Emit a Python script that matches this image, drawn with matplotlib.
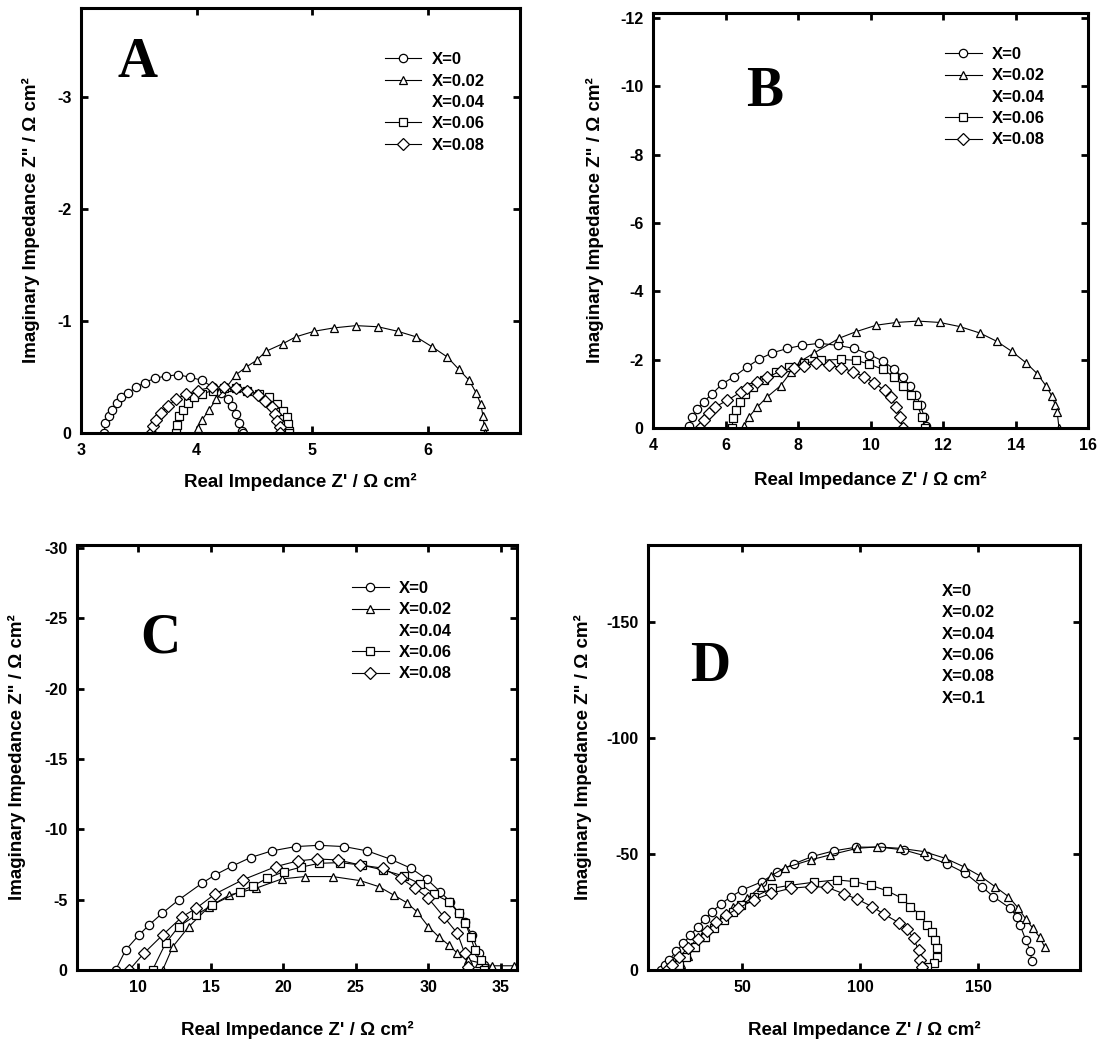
import matplotlib
matplotlib.use("Agg")
import matplotlib.pyplot as plt
from matplotlib.lines import Line2D

plt.rcParams['font.family'] = ['Liberation Sans', 'DejaVu Sans']
plt.rcParams['font.weight'] = 'bold'
plt.rcParams['axes.unicode_minus'] = False

labels = ["X=0", "X=0.02", "X=0.04", "X=0.06", "X=0.08"]
labels_d = ["X=0", "X=0.02", "X=0.04", "X=0.06", "X=0.08", "X=0.1"]

# ---- panel A ----
a0_re = [3.20, 3.21, 3.24, 3.27, 3.31, 3.35, 3.41, 3.48, 3.55, 3.64, 3.74, 3.84, 3.94, 4.05, 4.14, 4.21, 4.27, 4.31, 4.34, 4.37, 4.39, 4.40]
a0_im = [0, -0.09, -0.15, -0.21, -0.27, -0.32, -0.36, -0.41, -0.45, -0.49, -0.51, -0.52, -0.50, -0.47, -0.41, -0.36, -0.30, -0.24, -0.17, -0.09, -0.02, 0]
a2_re = [4.01, 4.05, 4.11, 4.17, 4.26, 4.34, 4.43, 4.52, 4.60, 4.75, 4.86, 5.02, 5.19, 5.38, 5.57, 5.74, 5.90, 6.04, 6.17, 6.27, 6.36, 6.42, 6.46, 6.48, 6.49, 6.50]
a2_im = [-0.045, -0.12, -0.21, -0.30, -0.41, -0.52, -0.59, -0.65, -0.73, -0.80, -0.86, -0.91, -0.94, -0.96, -0.95, -0.91, -0.86, -0.77, -0.68, -0.57, -0.47, -0.36, -0.26, -0.15, -0.06, 0]
a6_re = [3.82, 3.83, 3.85, 3.88, 3.93, 3.98, 4.05, 4.14, 4.24, 4.34, 4.44, 4.54, 4.63, 4.70, 4.75, 4.78, 4.79, 4.80, 4.80]
a6_im = [0, -0.075, -0.15, -0.21, -0.27, -0.32, -0.35, -0.38, -0.40, -0.40, -0.38, -0.35, -0.32, -0.26, -0.20, -0.14, -0.08, -0.02, 0]
a8_re = [3.61, 3.62, 3.65, 3.69, 3.75, 3.82, 3.91, 4.01, 4.13, 4.24, 4.34, 4.44, 4.53, 4.59, 4.65, 4.68, 4.70, 4.72, 4.72]
a8_im = [0, -0.06, -0.12, -0.18, -0.24, -0.30, -0.35, -0.38, -0.41, -0.41, -0.40, -0.38, -0.34, -0.29, -0.23, -0.17, -0.11, -0.05, 0]

# ---- panel B ----
b0_re = [4.98, 5.08, 5.22, 5.40, 5.63, 5.91, 6.23, 6.60, 6.92, 7.29, 7.71, 8.12, 8.59, 9.09, 9.55, 9.97, 10.34, 10.66, 10.89, 11.08, 11.26, 11.38, 11.48, 11.54]
b0_im = [-0.05, -0.33, -0.57, -0.77, -1.00, -1.29, -1.50, -1.79, -2.01, -2.20, -2.33, -2.42, -2.48, -2.42, -2.33, -2.15, -1.96, -1.72, -1.48, -1.24, -0.96, -0.67, -0.33, -0.05]
b2_re = [6.51, 6.65, 6.88, 7.15, 7.52, 7.80, 8.08, 8.45, 9.14, 9.60, 10.16, 10.71, 11.31, 11.91, 12.46, 13.02, 13.48, 13.89, 14.30, 14.60, 14.85, 15.00, 15.10, 15.15, 15.20]
b2_im = [-0.05, -0.33, -0.62, -0.91, -1.24, -1.63, -1.96, -2.20, -2.63, -2.82, -3.01, -3.09, -3.13, -3.09, -2.97, -2.78, -2.54, -2.25, -1.90, -1.59, -1.22, -0.94, -0.67, -0.46, 0]
b6_re = [6.18, 6.21, 6.28, 6.40, 6.55, 6.77, 7.05, 7.39, 7.75, 8.17, 8.63, 9.19, 9.60, 9.97, 10.34, 10.64, 10.89, 11.11, 11.29, 11.42, 11.51]
b6_im = [0, -0.29, -0.53, -0.77, -0.99, -1.20, -1.41, -1.63, -1.80, -1.90, -1.98, -2.01, -1.98, -1.87, -1.72, -1.50, -1.24, -0.96, -0.67, -0.33, 0]
b8_re = [5.31, 5.40, 5.54, 5.72, 6.05, 6.42, 6.60, 6.88, 7.15, 7.52, 7.89, 8.17, 8.49, 8.86, 9.19, 9.51, 9.83, 10.11, 10.39, 10.57, 10.71, 10.80, 10.89]
b8_im = [0, -0.24, -0.43, -0.62, -0.81, -1.05, -1.18, -1.34, -1.48, -1.67, -1.77, -1.82, -1.89, -1.84, -1.77, -1.65, -1.50, -1.31, -1.10, -0.91, -0.62, -0.33, 0]

# ---- panel C ----
c0_re = [8.46, 9.15, 10.07, 10.76, 11.67, 12.8, 14.4, 15.3, 16.5, 17.75, 19.2, 20.85, 22.45, 24.2, 25.8, 27.4, 28.8, 29.9, 30.8, 31.5, 32.1, 32.5, 33.0, 33.5, 33.8, 34.0]
c0_im = [0, -1.42, -2.49, -3.2, -4.03, -4.98, -6.16, -6.75, -7.39, -7.99, -8.46, -8.77, -8.86, -8.77, -8.46, -7.87, -7.23, -6.45, -5.57, -4.86, -4.03, -3.44, -2.49, -1.18, -0.36, 0]
c2_re = [11.7, 12.4, 13.5, 14.9, 16.3, 18.1, 19.9, 21.5, 23.4, 25.3, 26.6, 27.6, 28.5, 29.2, 30.0, 30.7, 31.4, 32.0, 32.7, 33.5, 34.4, 35.9]
c2_im = [0, -1.66, -3.08, -4.5, -5.33, -5.8, -6.47, -6.64, -6.64, -6.35, -5.92, -5.33, -4.79, -4.15, -3.08, -2.37, -1.78, -1.18, -0.71, -0.52, -0.3, -0.3]
c6_re = [11.0, 11.9, 12.8, 14.0, 15.1, 17.0, 17.9, 18.9, 20.05, 21.2, 22.45, 23.9, 25.4, 26.9, 28.3, 29.45, 30.4, 31.4, 32.1, 32.55, 32.9, 33.2, 33.6, 33.8]
c6_im = [0, -1.9, -3.08, -3.9, -4.62, -5.57, -5.97, -6.52, -6.99, -7.3, -7.58, -7.63, -7.46, -7.1, -6.68, -6.11, -5.38, -4.86, -4.03, -3.32, -2.37, -1.42, -0.71, 0]
c8_re = [9.4, 10.4, 11.7, 13.05, 14.0, 15.3, 17.2, 19.5, 21.0, 22.3, 23.8, 25.3, 26.9, 28.1, 29.1, 30.0, 31.05, 32.0, 32.5, 32.7]
c8_im = [0, -1.18, -2.49, -3.79, -4.38, -5.4, -6.4, -7.35, -7.75, -7.89, -7.82, -7.46, -7.23, -6.52, -5.8, -5.09, -3.79, -2.6, -1.18, -0.24]

# ---- panel D ----
d0_re = [15.5, 17, 19, 22, 25, 28, 31, 34, 37, 41, 45, 50, 58.5, 64.8, 71.8, 79.6, 88.7, 98.3, 108.5, 118.3, 128.2, 136.6, 144.4, 151.4, 156.3, 163.4, 166.2, 167.6, 170, 172, 172.5]
d0_im = [0, -2, -4.5, -8, -11.5, -15, -18.5, -22, -25, -28.5, -31.5, -34.5, -38.1, -42.4, -45.7, -48.9, -51.3, -52.9, -52.9, -51.7, -48.9, -45.7, -41.7, -35.9, -31.6, -26.6, -23.0, -19.4, -13, -8, -4]
d2_re = [22, 24, 27, 30, 34, 38, 42, 46, 52.1, 57.7, 62, 68, 78.9, 87.3, 98.6, 107, 116.9, 126.8, 135.9, 143.7, 150.7, 157.0, 162.7, 166.9, 170, 173, 176, 178]
d2_im = [0, -2.5, -6, -10, -14, -18.5, -23, -27, -30.9, -35.9, -40.5, -44, -47.4, -49.6, -52.4, -53, -52.4, -51.0, -48.1, -44.5, -40.5, -35.9, -31.6, -26.6, -22, -18, -14, -10]
d6_re = [21, 23, 26, 30, 34, 38, 42, 46, 49.3, 55, 62.7, 69.7, 80.3, 89.9, 97.2, 104.6, 111.3, 117.6, 121.1, 125.4, 128.2, 130.3, 131.7, 132.4, 132.4, 131, 128.2]
d6_im = [0, -2, -5.5, -10, -14, -18, -21.5, -25, -28, -31.5, -35.2, -36.4, -37.8, -38.8, -38.1, -36.4, -34.1, -30.9, -27.3, -23.7, -19.4, -16.5, -12.9, -9.3, -5.7, -2.9, -1.4]
d8_re = [18, 20, 23, 27, 31, 35, 39, 43, 48, 54.9, 62, 70.4, 78.9, 85.9, 93, 98.6, 104.9, 109.9, 116.2, 119.7, 122.5, 124.6, 125.4, 126.1]
d8_im = [0, -2, -5.5, -9.5, -13.5, -17, -20.5, -23.5, -26.5, -30.2, -33, -35.2, -35.9, -35.6, -32.8, -30.5, -27.3, -24.1, -20.4, -17.5, -13.6, -8.6, -4.3, -1.4]

W, H = 1099, 1045
fig = plt.figure(figsize=(W / 100, H / 100), dpi=100)


def box(l, r, t, b):
    return [l / W, 1 - b / H, (r - l) / W, (b - t) / H]


def series(ax, re, im, marker):
    return ax.plot(re, im, color='black', lw=0.8, marker=marker, ms=6,
                   mfc='white', mec='black', mew=0.9)[0]


def style(ax, xlim, ylim, xticks, yticks, ylab_x, xlab_y):
    ax.set_xlim(*xlim)
    ax.set_ylim(*ylim)
    ax.set_xticks(xticks)
    ax.set_yticks(yticks)
    ax.set_xticklabels([f"{v:g}" for v in xticks])
    ax.set_yticklabels([f"{v:g}" for v in yticks])
    for s in ax.spines.values():
        s.set_linewidth(2.2)
    ax.tick_params(direction='in', length=5, width=2, top=True, right=True,
                   labelsize=11.5, pad=7)
    ax.set_xlabel("Real Impedance Z' / \u03a9 cm\u00b2", fontsize=13.5, fontweight='bold')
    ax.set_ylabel('Imaginary Impedance Z" / \u03a9 cm\u00b2', fontsize=13.5, fontweight='bold')
    ax.yaxis.set_label_coords(ylab_x, 0.5)
    ax.xaxis.set_label_coords(0.5, xlab_y)


blank = Line2D([], [], linestyle='none', marker='')


def legend(ax, handles, labs, x, y, hl=2.2):
    ax.legend(handles, labs, loc='upper left', bbox_to_anchor=(x, y), frameon=False,
              prop={'weight': 'bold', 'size': 12}, handlelength=hl,
              handletextpad=0.6 if hl else 0, labelspacing=0.38,
              borderpad=0, borderaxespad=0)


def letter(ax, t, x, y):
    ax.text(x, y, t, transform=ax.transAxes, fontsize=40, fontweight='bold',
            family='Liberation Serif', ha='center', va='center')


# A
ax = fig.add_axes(box(81, 520, 8, 433))
h0 = series(ax, a0_re, a0_im, 'o')
h2 = series(ax, a2_re, a2_im, '^')
h6 = series(ax, a6_re, a6_im, 's')
h8 = series(ax, a8_re, a8_im, 'D')
style(ax, (3, 6.8), (0, -3.8), [3, 4, 5, 6], [0, -1, -2, -3], -0.093, -0.094)
legend(ax, [h0, h2, blank, h6, h8], labels, 0.692, 0.896)
letter(ax, "A", 0.128, 0.871)

# B
ax = fig.add_axes(box(653, 1088, 13, 428))
h0 = series(ax, b0_re, b0_im, 'o')
h2 = series(ax, b2_re, b2_im, '^')
h6 = series(ax, b6_re, b6_im, 's')
h8 = series(ax, b8_re, b8_im, 'D')
style(ax, (4, 16), (0, -12.15), [4, 6, 8, 10, 12, 14, 16], [0, -2, -4, -6, -8, -10, -12], -0.113, -0.104)
legend(ax, [h0, h2, blank, h6, h8], labels, 0.671, 0.918)
letter(ax, "B", 0.257, 0.81)

# C
ax = fig.add_axes(box(77, 517, 545, 970))
h0 = series(ax, c0_re, c0_im, 'o')
h2 = series(ax, c2_re, c2_im, '^')
h6 = series(ax, c6_re, c6_im, 's')
h8 = series(ax, c8_re, c8_im, 'D')
style(ax, (5.8, 36.1), (0, -30.2), [10, 15, 20, 25, 30, 35], [0, -5, -10, -15, -20, -25, -30], -0.116, -0.12)
legend(ax, [h0, h2, blank, h6, h8], labels, 0.625, 0.915)
letter(ax, "C", 0.189, 0.779)

# D
ax = fig.add_axes(box(648, 1080, 545, 970))
series(ax, d0_re, d0_im, 'o')
series(ax, d2_re, d2_im, '^')
series(ax, d6_re, d6_im, 's')
series(ax, d8_re, d8_im, 'D')
style(ax, (10, 193), (0, -183), [50, 100, 150], [0, -50, -100, -150], -0.13, -0.12)
legend(ax, [blank] * 6, labels_d, 0.68, 0.908, hl=0)
letter(ax, "D", 0.144, 0.713)

fig.savefig("out.png", dpi=100)
